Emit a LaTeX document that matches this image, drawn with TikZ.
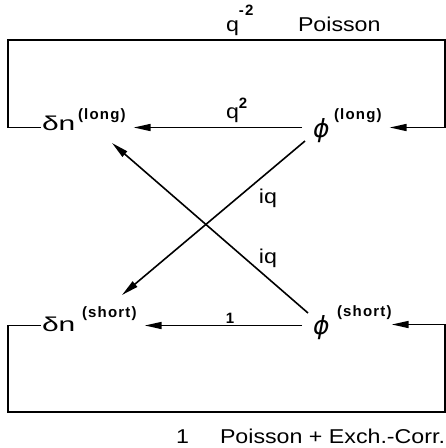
\documentclass[tikz,border=0pt]{standalone}
\usepackage{fontspec}
\setmainfont{Liberation Sans}[FakeStretch=1.16]
\newfontfamily\dnfont{Liberation Sans}[FakeStretch=1.5]
\newfontfamily\supfont{Liberation Sans}[LetterSpace=8]
\newfontfamily\phifont{DejaVu Sans}
\usetikzlibrary{arrows.meta,calc}
\begin{document}
\begin{tikzpicture}[x=1pt,y=-1pt,
  every node/.style={inner sep=0pt,outer sep=0pt},
  wire/.style={line width=1.6pt},
  arr/.style={wire,-{Triangle[length=17pt,width=7pt]}},
  big/.style={font=\fontsize{20}{20}\selectfont},
  dnsym/.style={font=\fontsize{20}{20}\dnfont},
  phisym/.style={font=\fontsize{25}{25}\phifont\itshape},
  supx/.style={font=\fontsize{15}{15}\supfont\bfseries}]
\fill[white] (0,0) rectangle (446,448);
\useasboundingbox (0,0) rectangle (446,448);
% main symbols
\node[dnsym,anchor=base west] (dnl) at (42,130) {δn};
\node[supx,anchor=base west] (dnlsup) at (78,119) {(long)};
\node[phisym,anchor=base west] (phil) at (313,137) {ϕ};
\node[supx,anchor=base west] (philsup) at (334,119) {(long)};
\node[dnsym,anchor=base west] (dns) at (42,331) {δn};
\node[supx,anchor=base west] (dnssup) at (82,317) {(short)};
\node[phisym,anchor=base west] (phis) at (313,334) {ϕ};
\node[supx,anchor=base west] (phissup) at (337,316) {(short)};
% labels
\node[big,anchor=base west] (qm2) at (226,31) {q\raisebox{16pt}{\fontsize{15}{15}\supfont\bfseries -2}};
\node[big,anchor=base west] (pois) at (298,31) {Poisson};
\node[big,anchor=base west] (q2) at (226,118) {q\raisebox{10pt}{\fontsize{15}{15}\supfont\bfseries 2}};
\node[big] (iq1) at (268,198) {iq};
\node[big] (iq2) at (268,258) {iq};
\node[supx] (one) at (230,318) {1};
\node[big,anchor=base west] (oneb) at (176,443) {1};
\node[big,anchor=base west] (pxc) at (220,443) {Poisson + Exch.-Corr.};
% frame corners
\coordinate (tl) at (8,40);
\coordinate (tr) at (445,40);
\coordinate (bl) at (8,412);
\coordinate (br) at (445,412);
% top loop
\draw[arr] ($(dnl.base west)+(-1,-2.5)$) -| (tl) -- (tr) |- ($(philsup.base east)+(8,8.5)$);
% bottom loop
\draw[arr] ($(dns.base west)+(-1,-5.5)$) -| (bl) -- (br) |- ($(phissup.base east)+(0,8.5)$);
% horizontal arrows
\draw[arr] ($(phil.base west)+(-11,-9.5)$) -- ($(dnlsup.base east)+(8,8.5)$);
\draw[arr] ($(phis.base west)+(-11,-8.5)$) -- ($(dnssup.base east)+(8,8.5)$);
% diagonals
\draw[arr] ($(phil.base west)+(-8,4)$) -- ($(dnssup.base west)+(40,-22)$);
\draw[arr] ($(phis.base west)+(-5,-21)$) -- ($(dnlsup.base west)+(34,24)$);
\end{tikzpicture}
\end{document}
